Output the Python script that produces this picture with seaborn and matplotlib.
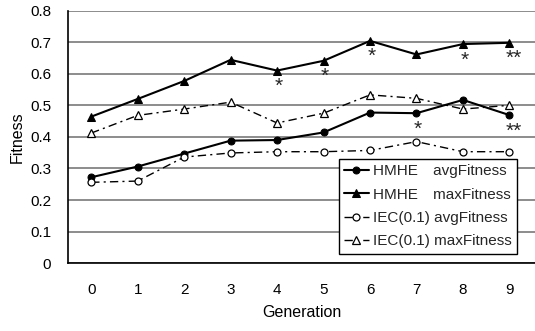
import numpy as np
import pandas as pd
import matplotlib
matplotlib.use("Agg")
import matplotlib.pyplot as plt
from matplotlib.ticker import FixedLocator
import seaborn as sns

# data
generations = [0, 1, 2, 3, 4, 5, 6, 7, 8, 9]
hmhe_avg = [0.272, 0.306, 0.347, 0.388, 0.390, 0.414, 0.477, 0.475, 0.517, 0.469]
hmhe_max = [0.464, 0.520, 0.577, 0.644, 0.610, 0.641, 0.704, 0.661, 0.694, 0.698]
iec_avg = [0.256, 0.260, 0.336, 0.349, 0.353, 0.353, 0.357, 0.385, 0.353, 0.353]
iec_max = [0.412, 0.468, 0.488, 0.510, 0.444, 0.475, 0.533, 0.522, 0.488, 0.500]

# significance marks (generation, text)
stars_max = [(4, "*"), (5, "*"), (6, "*"), (8, "*"), (9, "**")]
stars_avg = [(7, "*"), (9, "**")]

labels = ["HMHE\u3000avgFitness", "HMHE\u3000maxFitness",
          "IEC(0.1) avgFitness", "IEC(0.1) maxFitness"]

sns.set_theme(style="white")
plt.rcParams["font.family"] = ["Liberation Sans", "Noto Sans CJK JP", "DejaVu Sans"]

df = pd.DataFrame({"gen": generations, "hmhe_avg": hmhe_avg, "hmhe_max": hmhe_max,
                   "iec_avg": iec_avg, "iec_max": iec_max})

fig = plt.figure(figsize=(5.35, 3.31), dpi=100)
ax = fig.add_axes([0.127, 0.205, 0.873, 0.763])

ax.set_ylim(0, 0.8)
ax.set_xlim(-0.5, 9.55)
ax.yaxis.set_major_locator(FixedLocator(np.arange(0, 0.81, 0.1)))
ax.grid(axis="y", color="#8c8c8c", linewidth=1.4)
ax.set_axisbelow(True)

dashdot = (0, (6, 3, 1.5, 3))
sns.lineplot(data=df, x="gen", y="hmhe_avg", ax=ax, color="black", linewidth=1.5,
             marker="o", markersize=5, markerfacecolor="black", markeredgecolor="black",
             label=labels[0])
sns.lineplot(data=df, x="gen", y="hmhe_max", ax=ax, color="black", linewidth=1.5,
             marker="^", markersize=5.5, markerfacecolor="black", markeredgecolor="black",
             label=labels[1])
sns.lineplot(data=df, x="gen", y="iec_avg", ax=ax, color="black", linewidth=1.0,
             linestyle=dashdot, marker="o", markersize=5, markerfacecolor="white",
             markeredgecolor="black", markeredgewidth=0.9, label=labels[2])
sns.lineplot(data=df, x="gen", y="iec_max", ax=ax, color="black", linewidth=1.0,
             linestyle=dashdot, marker="^", markersize=5.5, markerfacecolor="white",
             markeredgecolor="black", markeredgewidth=0.9, label=labels[3])

for g, s in stars_max:
    ax.text(g + (0.1 if len(s) > 1 else 0.03), hmhe_max[g] - 0.05, s,
            ha="center", va="center", fontsize=15, family="Liberation Sans")
for g, s in stars_avg:
    ax.text(g + (0.1 if len(s) > 1 else 0.03), hmhe_avg[g] - 0.05, s,
            ha="center", va="center", fontsize=15, family="Liberation Sans")

# category axis: labels at centers, ticks between categories
ax.xaxis.set_major_locator(FixedLocator(generations))
ax.set_xticklabels([str(g) for g in generations])
ax.xaxis.set_minor_locator(FixedLocator(np.arange(0.5, 9.0, 1.0)))
ax.tick_params(axis="x", which="major", length=0, pad=14, labelsize=11, colors="black")
ax.tick_params(axis="x", which="minor", direction="in", length=4, width=1, color="black")
ax.tick_params(axis="y", length=0, pad=12, labelsize=11, colors="black")
ax.set_yticklabels(["0"] + ["%.1f" % v for v in np.arange(0.1, 0.81, 0.1)])

ax.set_xlabel("Generation", fontsize=11.5, labelpad=6, color="black")
ax.set_ylabel("Fitness", fontsize=11.5, labelpad=4, color="black")

for side in ["top", "right"]:
    ax.spines[side].set_visible(False)
for side in ["left", "bottom"]:
    ax.spines[side].set_color("black")
    ax.spines[side].set_linewidth(1.2)

leg = ax.legend(loc="lower left", bbox_to_anchor=(0.58, 0.037), fontsize=11,
                frameon=True, fancybox=False, handlelength=1.6, handletextpad=0.3,
                labelspacing=0.62, borderpad=0.35, borderaxespad=0)
leg.get_frame().set_edgecolor("black")
leg.get_frame().set_linewidth(1.0)
leg.get_frame().set_facecolor("white")
leg.get_frame().set_alpha(1)

fig.savefig("out.png", dpi=100)
